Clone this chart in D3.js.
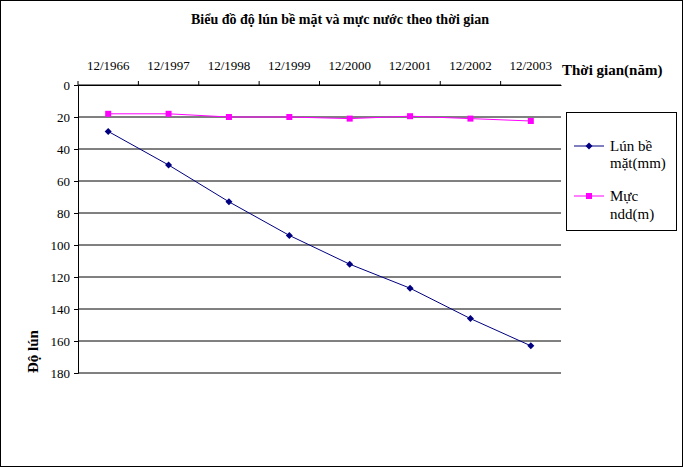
<!DOCTYPE html>
<html><head><meta charset="utf-8">
<script src="https://cdn.jsdelivr.net/npm/d3@7"></script>
<style>body{margin:0;background:#fff}svg text{font-family:'Liberation Serif','Times New Roman','DejaVu Serif',serif !important}</style>
</head><body>
<script>
const categories = ['12/1966','12/1997','12/1998','12/1999','12/2000','12/2001','12/2002','12/2003'];
const lun = [29, 50, 73, 94, 112, 127, 146, 163];
const mucNuoc = [18, 18, 20, 20, 21, 19.5, 21, 22.5];
const yTicks = [0, 20, 40, 60, 80, 100, 120, 140, 160, 180];

const W = 683, H = 467;
const m = {left: 78, right: 561, top: 85, bottom: 373};
const FONT = "'Liberation Serif','Times New Roman','DejaVu Serif',serif";
const svg = d3.select('body').append('svg').attr('width', W).attr('height', H)
  .attr('font-family', FONT);

svg.append('rect').attr('x', 0.5).attr('y', 0.5).attr('width', W - 1).attr('height', H - 1)
  .attr('fill', '#fff').attr('stroke', '#000');

const x = d3.scaleBand().domain(categories).range([m.left, m.right]);
const y = d3.scaleLinear().domain([0, 180]).range([m.top, m.bottom]);

// gridlines
svg.append('g').selectAll('line').data(yTicks).join('line')
  .attr('x1', m.left).attr('x2', m.right)
  .attr('y1', d => y(d)).attr('y2', d => y(d)).attr('stroke', '#000');

// axes
const yAxis = svg.append('g').attr('transform', `translate(${m.left},0)`)
  .call(d3.axisLeft(y).tickValues(yTicks).tickSize(4).tickPadding(4));
const xAxis = svg.append('g').attr('transform', `translate(0,${m.top})`)
  .call(d3.axisTop(x).tickSize(0).tickPadding(15));
[yAxis, xAxis].forEach(a => {
  a.attr('font-family', FONT).attr('font-size', 13);
  a.selectAll('text').attr('fill', '#000');
  a.select('.domain').attr('stroke', '#000');
});
// category separator ticks
svg.append('g').selectAll('line').data(categories).join('line')
  .attr('x1', d => x(d)).attr('x2', d => x(d))
  .attr('y1', m.top - 4).attr('y2', m.top).attr('stroke', '#000');

const cx = d => x(d) + x.bandwidth() / 2;
const line = d3.line().x((d, i) => cx(categories[i])).y(d => y(d));

svg.append('path').datum(mucNuoc).attr('d', line).attr('fill', 'none').attr('stroke', '#ff00ff');
svg.append('g').selectAll('rect').data(mucNuoc).join('rect')
  .attr('x', (d, i) => cx(categories[i]) - 3).attr('y', d => y(d) - 3)
  .attr('width', 6).attr('height', 6).attr('fill', '#ff00ff');

svg.append('path').datum(lun).attr('d', line).attr('fill', 'none').attr('stroke', '#000080');
const diamondPath = 'M0,-3.5L3.5,0L0,3.5L-3.5,0Z';
svg.append('g').selectAll('path').data(lun).join('path')
  .attr('transform', (d, i) => `translate(${cx(categories[i])},${y(d)})`)
  .attr('d', diamondPath).attr('fill', '#000080');

// titles
svg.append('text').attr('x', 340).attr('y', 24).attr('text-anchor', 'middle')
  .attr('font-size', 14).attr('font-weight', 'bold').text('Biểu đồ độ lún bề mặt và mực nước theo thời gian');
svg.append('text').attr('x', 562).attr('y', 75).attr('font-size', 15).attr('font-weight', 'bold').text('Thời gian(năm)');
svg.append('text').attr('transform', 'translate(38,373) rotate(-90)')
  .attr('font-size', 15).attr('font-weight', 'bold').text('Độ lún');

// legend
const lg = svg.append('g');
lg.append('rect').attr('x', 566.5).attr('y', 112.5).attr('width', 110).attr('height', 118)
  .attr('fill', '#fff').attr('stroke', '#000');
lg.append('line').attr('x1', 574).attr('x2', 604).attr('y1', 146).attr('y2', 146).attr('stroke', '#000080');
lg.append('path').attr('transform', 'translate(589,146)').attr('d', diamondPath).attr('fill', '#000080');
lg.append('text').attr('x', 610).attr('y', 151).attr('font-size', 15).text('Lún bề');
lg.append('text').attr('x', 610).attr('y', 168).attr('font-size', 15).text('mặt(mm)');
lg.append('line').attr('x1', 574).attr('x2', 604).attr('y1', 196).attr('y2', 196).attr('stroke', '#ff00ff');
lg.append('rect').attr('x', 586).attr('y', 193).attr('width', 6).attr('height', 6).attr('fill', '#ff00ff');
lg.append('text').attr('x', 610).attr('y', 201).attr('font-size', 15).text('Mực');
lg.append('text').attr('x', 610).attr('y', 219).attr('font-size', 15).text('ndd(m)');
</script>
</body></html>
